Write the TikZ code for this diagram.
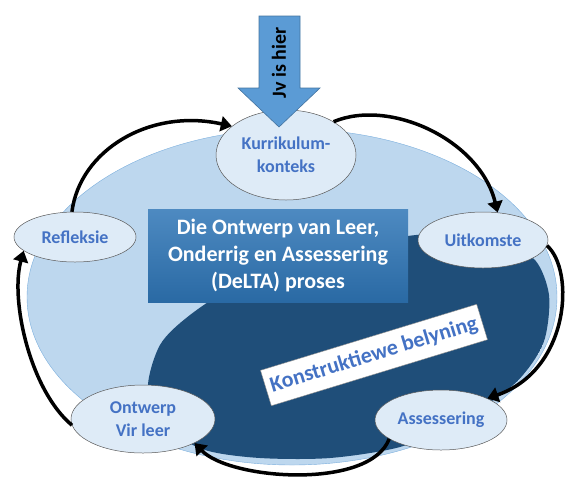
\documentclass[tikz,border=0pt]{standalone}
\usepackage{fontspec}
\setmainfont{Carlito}
\usetikzlibrary{shapes.geometric, arrows.meta}
\definecolor{ringblue}{HTML}{BDD7EE}
\definecolor{deepblue}{HTML}{1F4E79}
\definecolor{bubble}{HTML}{DEEBF7}
\definecolor{labelblue}{HTML}{4472C4}
\definecolor{boxblue}{HTML}{2E75B6}
\definecolor{pointer}{HTML}{5B9BD5}

\begin{document}
\begin{tikzpicture}[x=1pt, y=-1pt,
	stage/.style={ellipse, draw=black!65, line width=0.5pt, fill=bubble, inner sep=0pt,
		text=labelblue, font=\fontsize{18}{23}\selectfont\bfseries, align=center},
	cyclearrow/.style={line width=3.5pt, -{Triangle[width=15pt, length=11pt]}},
	titlebox/.style={rectangle, fill=boxblue, top color=boxblue!85!white, bottom color=boxblue!90!black,
		minimum width=260pt, minimum height=93pt, text=white,
		font=\fontsize{22}{27}\selectfont\bfseries, align=center},
	banner/.style={rectangle, fill=white, draw=black!45, line width=0.4pt, minimum width=226pt,
		minimum height=37pt, inner sep=2pt, text=labelblue, font=\fontsize{22}{24}\selectfont\bfseries}]
	\useasboundingbox (0,0) rectangle (575,488);

	% background
	\filldraw[fill=ringblue, draw=pointer!80] (292,297) ellipse [x radius=265, y radius=168];
	\begin{scope}
		\clip (292,297) ellipse [x radius=262, y radius=165];
		\fill[deepblue] plot[smooth cycle, tension=0.5] coordinates {
			(148,390) (160,345) (190,315) (240,283) (310,256) (380,240) (445,233)
			(500,240) (535,260) (549,295) (545,338) (528,370) (498,397) (450,425)
			(400,447) (330,458) (260,458) (205,450) (168,428)};
	\end{scope}

	% middle
	\node[titlebox] (delta) at (278,256) {Die Ontwerp van Leer,\\Onderrig en Assessering\\(DeLTA) proses};
	\node[banner, rotate=17] (belyning) at (374,355) {Konstruktiewe belyning};

	% stages
	\node[stage, minimum width=140pt, minimum height=90pt] (kurr) at (286,155) {Kurrikulum-\\konteks};
	\node[stage, minimum width=122pt, minimum height=50pt] (refl) at (75,237) {Refleksie};
	\node[stage, minimum width=130pt, minimum height=56pt] (uitk) at (483,240) {Uitkomste};
	\node[stage, minimum width=144pt, minimum height=68pt] (ontw) at (143,419) {Ontwerp\\Vir leer};
	\node[stage, minimum width=132pt, minimum height=60pt] (asse) at (441,420) {Assessering};

	% cycle
	\draw[cyclearrow] (kurr.35) .. controls (390,98) and (480,140) .. (uitk.62);
	\draw[cyclearrow] (uitk.-5) .. controls (575,270) and (570,370) .. (asse.25);
	\draw[cyclearrow] (asse.200) .. controls (370,490) and (230,480) .. (ontw.-25);
	\draw[cyclearrow] (ontw.185) .. controls (30,390) and (10,300) .. (refl.195);
	\draw[cyclearrow] (refl.97) .. controls (80,150) and (150,108) .. (kurr.152);

	% you are here
	\filldraw[fill=pointer, draw=pointer!75!black, line width=0.6pt]
		(259,16) -- (300,16) -- (300,88) -- (320,88) -- (279,127) -- (238,88) -- (259,88) -- cycle;
	\node[rotate=90, font=\fontsize{20}{22}\selectfont\bfseries] (hier) at (279,63) {Jv is hier};
\end{tikzpicture}
\end{document}
